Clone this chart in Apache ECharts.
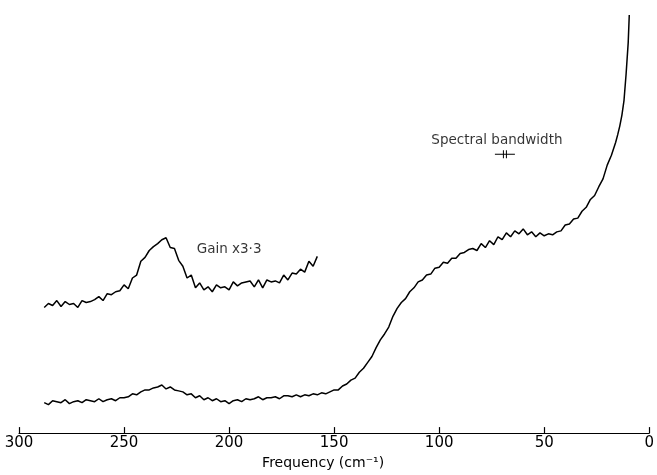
<!DOCTYPE html>
<html>
<head>
<meta charset="utf-8">
<script src="https://cdn.jsdelivr.net/npm/echarts@6/dist/echarts.min.js"></script>
<style>
html,body{margin:0;padding:0;background:#fff;}
#main{width:657px;height:475px;}
</style>
</head>
<body>
<div id="main"></div>
<script>
// frequency axis (cm-1), drawn reversed 300 -> 0
var xTicks = [300, 250, 200, 150, 100, 50, 0];

// main spectrum: [frequency, intensity (arb.)]
var freqMain = [288,286,284,282,280,278,276,274,272,270,268,266,264,262,260,258,256,254,252,250,
    248,246,244,242,240,238,236,234,232,230,228,226,224,222,220,218,216,214,212,210,
    208,206,204,202,200,198,196,194,192,190,188,186,184,182,180,178,176,174,172,170,
    168,166,164,162,160,158,156,154,152,150,148,146,144,142,140,138,136,134,132,130,
    128,126,124,122,120,118,116,114,112,110,108,106,104,102,100,98,96,94,92,90,
    88,86,84,82,80,78,76,74,72,70,68,66,64,62,60,58,56,54,52,50,
    48,46,44,42,40,38,36,34,32,30,28,26,24,22,20,18,16,15,14,13,12,11,10,9.5];
var valMain = [33,31,35,34,33,36,32,34,35,33,36,35,34,37,34,36,37,35,38,38,
    39,42,41,44,46,46,48,49,51,47,49,46,45,44,41,42,38,40,36,38,
    35,37,34,35,32,35,36,34,37,36,37,39,36,38,38,39,37,40,40,39,
    41,39,41,40,42,41,43,42,44,46,46,50,52,56,58,64,68,74,80,89,
    97,103,110,121,129,135,139,146,150,156,158,163,164,170,171,176,175,180,180,185,
    186,189,190,188,195,191,198,194,202,199,206,202,208,205,210,204,207,202,206,203,
    205,204,207,208,214,215,220,221,228,232,240,244,253,261,275,285,298,306,315,326,341,368,400,428];

// same region recorded at gain x3.3
var freqGain = [288,286,284,282,280,278,276,274,272,270,268,266,264,262,260,258,256,254,252,250,
    248,246,244,242,240,238,236,234,232,230,228,226,224,222,220,218,216,214,212,210,
    208,206,204,202,200,198,196,194,192,190,188,186,184,182,180,178,176,174,172,170,
    168,166,164,162,160,158];
var valGain = [130,134,132,137,131,136,133,134,130,137,135,136,138,141,137,144,143,146,147,153,
    149,160,163,177,181,188,192,195,199,201,191,190,178,172,160,163,150,155,148,151,
    146,153,150,151,148,156,152,155,156,157,151,158,150,158,156,157,155,163,158,165,
    164,169,166,177,172,182];

// annotations: [frequency, intensity, text]
var notes = [[72.5, 300, 'Spectral bandwidth'], [200, 189, 'Gain x3\u00b73']];
var bandwidthMark = [[68.7, 286]];

function pairs(xs, ys) {
    var out = [];
    for (var i = 0; i < xs.length; i++) out.push([xs[i], ys[i]]);
    return out;
}

var chart = echarts.init(document.getElementById('main'));
var font = 'DejaVu Sans';
chart.setOption({
    animation: false,
    backgroundColor: '#fff',
    grid: { left: 19, right: 5, top: 10, bottom: 36 },
    xAxis: {
        type: 'value',
        inverse: true,
        min: 0,
        max: 300,
        interval: 50,
        name: 'Frequency (cm\u207b\u00b9)',
        nameLocation: 'middle',
        nameGap: 22,
        nameTextStyle: { color: '#000', fontSize: 14, fontFamily: font, padding: [0, 22, 0, 0] },
        axisLine: { lineStyle: { color: '#000', width: 1.2 } },
        axisTick: { inside: true, length: 6, lineStyle: { color: '#000', width: 1.2 } },
        axisLabel: {
            margin: 3, color: '#000', fontSize: 15, fontFamily: font,
            formatter: function (v) { return xTicks.indexOf(v) >= 0 ? String(v) : ''; }
        },
        splitLine: { show: false }
    },
    yAxis: {
        type: 'value',
        min: 2,
        max: 433,
        show: false,
        splitLine: { show: false }
    },
    series: [
        {
            name: 'spectrum',
            type: 'line',
            data: pairs(freqMain, valMain),
            showSymbol: false,
            lineStyle: { color: '#000', width: 1.5 }
        },
        {
            name: 'gain',
            type: 'line',
            data: pairs(freqGain, valGain),
            showSymbol: false,
            lineStyle: { color: '#000', width: 1.5 }
        },
        {
            name: 'notes',
            type: 'scatter',
            symbolSize: 0,
            data: notes.map(function (n) { return { value: [n[0], n[1]], name: n[2] }; }),
            label: {
                show: true,
                position: 'inside',
                formatter: '{b}',
                color: '#000',
                fontSize: 13.5,
                fontFamily: font
            }
        },
        {
            name: 'bandwidth',
            type: 'scatter',
            symbol: 'path://M0,3.5H20V4.5H0Z M8,0H9V8H8Z M11,0H12V8H11Z',
            symbolSize: [20, 8],
            itemStyle: { color: '#000', opacity: 1 },
            data: bandwidthMark
        }
    ]
});
</script>
</body>
</html>
